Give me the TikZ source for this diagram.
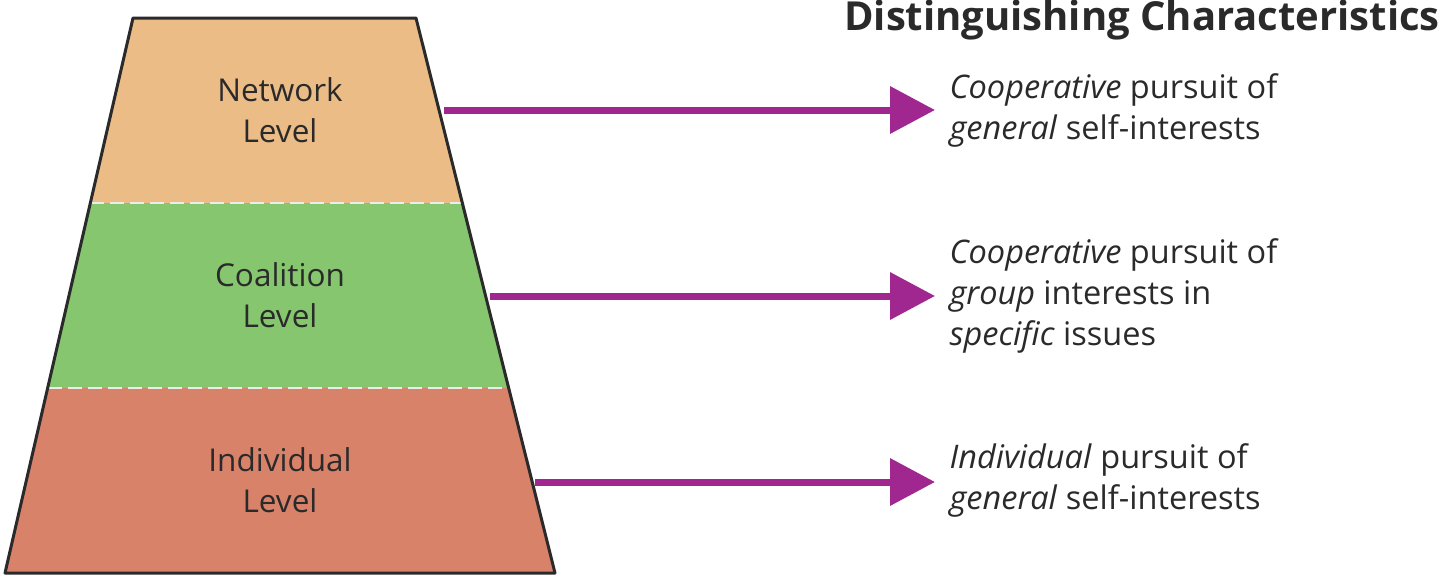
\documentclass[tikz,border=0pt]{standalone}
\usepackage{fontspec}
\setmainfont{Open Sans}
\usetikzlibrary{arrows.meta}
\definecolor{cnet}{HTML}{EBBC86}
\definecolor{ccoal}{HTML}{85C66E}
\definecolor{cind}{HTML}{D9826A}
\definecolor{cpur}{HTML}{A0278F}
\definecolor{ctxt}{HTML}{2A2A2A}
\begin{document}
\begin{tikzpicture}[x=1pt,y=-1pt,
  lvl/.style={align=center,font=\fontsize{31.5}{41}\selectfont,text=ctxt},
  desc/.style={align=left,anchor=west,font=\fontsize{32.5}{41}\selectfont,text=ctxt},
  arr/.style={draw=cpur,line width=7pt,-{Triangle[length=45pt,width=46pt]}}]
\useasboundingbox (0,0) rectangle (1440,576);
\fill[cnet] (133,18) -- (416,18) -- (462.3,203) -- (90.3,203) -- cycle;
\fill[ccoal] (90.3,203) -- (462.3,203) -- (508.7,388) -- (47.7,388) -- cycle;
\fill[cind] (47.7,388) -- (508.7,388) -- (555,573) -- (5,573) -- cycle;
\draw[white!85!gray,line width=2.5pt,dash pattern=on 14pt off 6pt] (90.3,203) -- (462.3,203) (47.7,388) -- (508.7,388);
\draw[ctxt,line width=3pt,line join=round] (133,18) -- (416,18) -- (555,573) -- (5,573) -- cycle;
\node[lvl] (n) at (280,110) {Network\\Level};
\node[lvl] (c) at (280,295) {Coalition\\Level};
\node[lvl] (i) at (280,480) {Individual\\Level};
\coordinate (n1) at (444,110); \coordinate (n2) at (935,110);
\coordinate (c1) at (490,296); \coordinate (c2) at (935,296);
\coordinate (i1) at (535,482); \coordinate (i2) at (935,482);
\draw[arr] (n1) -- (n2);
\draw[arr] (c1) -- (c2);
\draw[arr] (i1) -- (i2);
\node[anchor=north east,font=\bfseries\fontsize{40}{44}\selectfont,text=ctxt,inner sep=0pt] (t) at (1440,0) {Distinguishing Characteristics};
\node[desc] (d1) at (946,110) {\textit{Cooperative} pursuit of\\\textit{general} self-interests};
\node[desc] (d2) at (946,296) {\textit{Cooperative} pursuit of\\\textit{group} interests in\\\textit{specific} issues};
\node[desc] (d3) at (946,480) {\textit{Individual} pursuit of\\\textit{general} self-interests};
\end{tikzpicture}
\end{document}
